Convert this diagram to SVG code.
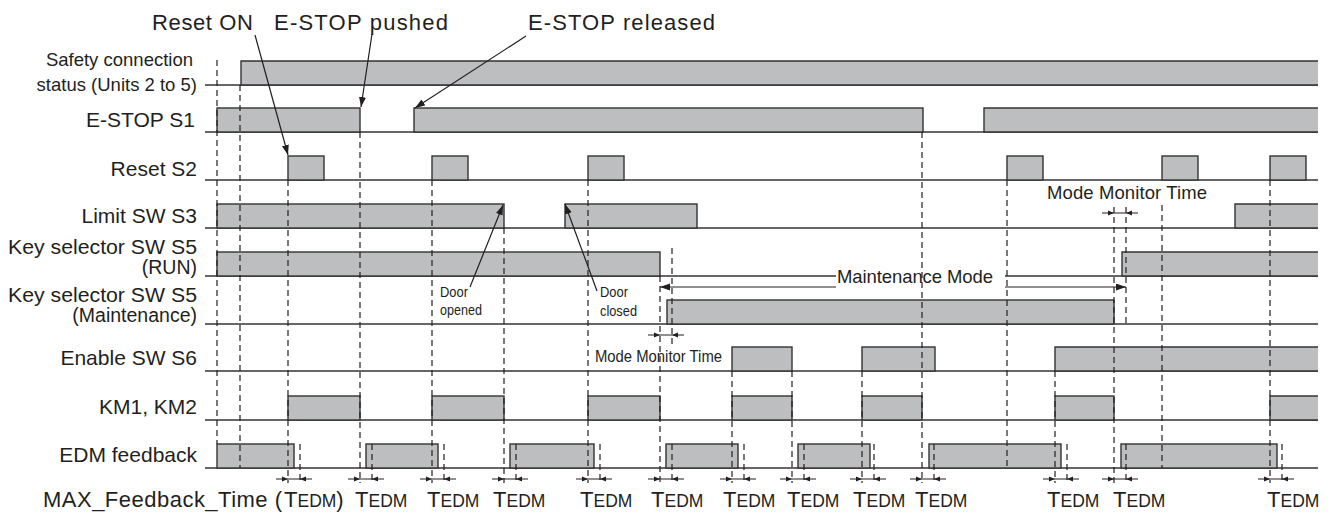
<svg xmlns="http://www.w3.org/2000/svg" xmlns:xlink="http://www.w3.org/1999/xlink" width="1330" height="518" viewBox="0 0 1330 518">
<style>
text{font-family:"Liberation Sans",Arial,Helvetica,sans-serif;fill:#231f20}
.lbl{font-size:21px;text-anchor:end}
.lb2{font-size:19.5px;text-anchor:end}
.lbs{font-size:18.5px;text-anchor:end}
.ann{font-size:22px}
.sm{font-size:15px}
.sig{fill:#bcbec0;stroke:#333;stroke-width:1.4}
.base{stroke:#333;stroke-width:1.4;fill:none}
.dash{stroke:#231f20;stroke-width:1.2;stroke-dasharray:6 4;fill:none}
.lead{stroke:#231f20;stroke-width:1.2;fill:none}
.ah{fill:#231f20;stroke:none}
</style>
<defs>
<marker id="arr" markerUnits="userSpaceOnUse" markerWidth="11" markerHeight="8" refX="10" refY="3.5" orient="auto">
<path d="M0,0 L10,3.5 L0,7 z" fill="#231f20"/>
</marker>
<g id="tm">
<line class="lead" x1="-12" y1="0" x2="24" y2="0"/>
<path class="ah" d="M0 0 l-6 -2.6 v5.2z M12 0 l6 -2.6 v5.2z"/>
</g>
</defs>

<g id="row-safety">
<text class="lbs" x="193" y="66">Safety connection</text>
<text class="lbs" x="197" y="91">status (Units 2 to 5)</text>
<line class="base" x1="205" y1="85" x2="1318" y2="85"/>
<path class="sig" d="M1318 85 H241 V61 H1318"/>
</g>

<g id="row-estop">
<text class="lbl" x="195" y="127">E-STOP S1</text>
<line class="base" x1="205" y1="132" x2="1318" y2="132"/>
<rect class="sig" x="217" y="108" width="143" height="24"/>
<rect class="sig" x="414" y="108" width="509" height="24"/>
<path class="sig" d="M1318 132 H984 V108 H1318"/>
</g>

<g id="row-reset">
<text class="lbl" x="197" y="175.5">Reset S2</text>
<line class="base" x1="205" y1="180" x2="1318" y2="180"/>
<rect class="sig" x="288" y="156" width="36" height="24"/>
<rect class="sig" x="432" y="156" width="36" height="24"/>
<rect class="sig" x="588" y="156" width="36" height="24"/>
<rect class="sig" x="1007" y="156" width="36" height="24"/>
<rect class="sig" x="1162" y="156" width="36" height="24"/>
<rect class="sig" x="1270" y="156" width="36" height="24"/>
</g>

<g id="row-limit">
<text class="lbl" x="197" y="223">Limit SW S3</text>
<line class="base" x1="205" y1="228" x2="1318" y2="228"/>
<rect class="sig" x="217" y="204" width="287" height="24"/>
<rect class="sig" x="565" y="204" width="132" height="24"/>
<path class="sig" d="M1318 228 H1235 V204 H1318"/>
</g>

<g id="row-run">
<text class="lb2" x="197" y="254" textLength="189" lengthAdjust="spacingAndGlyphs">Key selector SW S5</text>
<text class="lb2" x="197" y="274">(RUN)</text>
<line class="base" x1="205" y1="276" x2="836" y2="276"/>
<line class="base" x1="1005" y1="276" x2="1318" y2="276"/>
<rect class="sig" x="217" y="252" width="443" height="24"/>
<path class="sig" d="M1318 276 H1122 V252 H1318"/>
</g>

<g id="row-maint">
<text class="lb2" x="197" y="301.5" textLength="189" lengthAdjust="spacingAndGlyphs">Key selector SW S5</text>
<text class="lb2" x="197" y="321.5">(Maintenance)</text>
<line class="base" x1="205" y1="324" x2="1318" y2="324"/>
<rect class="sig" x="667" y="300" width="447" height="24"/>
</g>

<g id="row-enable">
<text class="lbl" x="197" y="365">Enable SW S6</text>
<line class="base" x1="205" y1="371" x2="1318" y2="371"/>
<rect class="sig" x="732" y="347" width="60" height="24"/>
<rect class="sig" x="862" y="347" width="73" height="24"/>
<path class="sig" d="M1318 371 H1055 V347 H1318"/>
</g>

<g id="row-km">
<text class="lbl" x="197" y="414">KM1, KM2</text>
<line class="base" x1="205" y1="420" x2="1318" y2="420"/>
<rect class="sig" x="288" y="396" width="72" height="24"/>
<rect class="sig" x="432" y="396" width="72" height="24"/>
<rect class="sig" x="588" y="396" width="72" height="24"/>
<rect class="sig" x="732" y="396" width="60" height="24"/>
<rect class="sig" x="862" y="396" width="60" height="24"/>
<rect class="sig" x="1055" y="396" width="59" height="24"/>
<path class="sig" d="M1318 420 H1270 V396 H1318"/>
</g>

<g id="row-edm">
<text class="lbl" x="197" y="462">EDM feedback</text>
<line class="base" x1="205" y1="468" x2="1318" y2="468"/>
<rect class="sig" x="217" y="444" width="77" height="24"/>
<rect class="sig" x="366" y="444" width="72" height="24"/>
<rect class="sig" x="510" y="444" width="84" height="24"/>
<rect class="sig" x="666" y="444" width="72" height="24"/>
<rect class="sig" x="798" y="444" width="72" height="24"/>
<rect class="sig" x="929" y="444" width="132" height="24"/>
<rect class="sig" x="1121" y="444" width="156" height="24"/>
</g>

<g id="connectors">
<g id="dashed">
<line class="dash" x1="217" y1="60" x2="217" y2="444"/>
<line class="dash" x1="240" y1="85" x2="240" y2="468"/>
<line class="dash" x1="288" y1="180" x2="288" y2="483"/>
<line class="dash" x1="300" y1="444" x2="300" y2="483"/>
<line class="dash" x1="360" y1="132" x2="360" y2="483"/>
<line class="dash" x1="372" y1="444" x2="372" y2="483"/>
<line class="dash" x1="432" y1="180" x2="432" y2="483"/>
<line class="dash" x1="444" y1="444" x2="444" y2="483"/>
<line class="dash" x1="504" y1="228" x2="504" y2="483"/>
<line class="dash" x1="516" y1="444" x2="516" y2="483"/>
<line class="dash" x1="588" y1="180" x2="588" y2="483"/>
<line class="dash" x1="600" y1="444" x2="600" y2="483"/>
<line class="dash" x1="660" y1="276" x2="660" y2="483"/>
<line class="dash" x1="672" y1="248" x2="672" y2="345"/>
<line class="dash" x1="672" y1="444" x2="672" y2="483"/>
<line class="dash" x1="732" y1="371" x2="732" y2="483"/>
<line class="dash" x1="744" y1="444" x2="744" y2="483"/>
<line class="dash" x1="792" y1="371" x2="792" y2="483"/>
<line class="dash" x1="804" y1="444" x2="804" y2="483"/>
<line class="dash" x1="862" y1="371" x2="862" y2="483"/>
<line class="dash" x1="874" y1="444" x2="874" y2="483"/>
<line class="dash" x1="922" y1="132" x2="922" y2="483"/>
<line class="dash" x1="934" y1="444" x2="934" y2="483"/>
<line class="dash" x1="1007" y1="180" x2="1007" y2="468"/>
<line class="dash" x1="1055" y1="371" x2="1055" y2="483"/>
<line class="dash" x1="1067" y1="444" x2="1067" y2="483"/>
<line class="dash" x1="1114" y1="207" x2="1114" y2="483"/>
<line class="dash" x1="1126" y1="207" x2="1126" y2="324"/>
<line class="dash" x1="1126" y1="444" x2="1126" y2="483"/>
<line class="dash" x1="1162" y1="205" x2="1162" y2="468"/>
<line class="dash" x1="1270" y1="180" x2="1270" y2="483"/>
<line class="dash" x1="1282" y1="444" x2="1282" y2="483"/>
</g>
<g id="leaders">
<line class="lead" x1="255" y1="35" x2="288" y2="155" marker-end="url(#arr)"/>
<line class="lead" x1="372" y1="34" x2="361" y2="107" marker-end="url(#arr)"/>
<line class="lead" x1="526" y1="36" x2="415" y2="108" marker-end="url(#arr)"/>
<line class="lead" x1="470" y1="287" x2="503" y2="205" marker-end="url(#arr)"/>
<line class="lead" x1="597" y1="291" x2="565" y2="204" marker-end="url(#arr)"/>
<line class="lead" x1="836" y1="287" x2="660" y2="287" marker-end="url(#arr)"/>
<line class="lead" x1="1005" y1="287" x2="1126" y2="287" marker-end="url(#arr)"/>
</g>
<g id="intervals">
<use xlink:href="#tm" href="#tm" transform="translate(660,335)"/>
<use xlink:href="#tm" href="#tm" transform="translate(1114,213)"/>
<use xlink:href="#tm" href="#tm" transform="translate(288,479)"/>
<use xlink:href="#tm" href="#tm" transform="translate(360,479)"/>
<use xlink:href="#tm" href="#tm" transform="translate(432,479)"/>
<use xlink:href="#tm" href="#tm" transform="translate(504,479)"/>
<use xlink:href="#tm" href="#tm" transform="translate(588,479)"/>
<use xlink:href="#tm" href="#tm" transform="translate(660,479)"/>
<use xlink:href="#tm" href="#tm" transform="translate(732,479)"/>
<use xlink:href="#tm" href="#tm" transform="translate(792,479)"/>
<use xlink:href="#tm" href="#tm" transform="translate(862,479)"/>
<use xlink:href="#tm" href="#tm" transform="translate(922,479)"/>
<use xlink:href="#tm" href="#tm" transform="translate(1055,479)"/>
<use xlink:href="#tm" href="#tm" transform="translate(1114,479)"/>
<use xlink:href="#tm" href="#tm" transform="translate(1270,479)"/>
</g>
</g>

<g id="annotations">
<text class="ann" x="152" y="30" textLength="101" lengthAdjust="spacing">Reset ON</text>
<text class="ann" x="274" y="30" textLength="174" lengthAdjust="spacing">E-STOP pushed</text>
<text class="ann" x="528" y="30" textLength="187" lengthAdjust="spacing">E-STOP released</text>
<text class="sm" x="440" y="297" textLength="28" lengthAdjust="spacingAndGlyphs">Door</text>
<text class="sm" x="440" y="315" textLength="42" lengthAdjust="spacingAndGlyphs">opened</text>
<text class="sm" x="600" y="297" textLength="28" lengthAdjust="spacingAndGlyphs">Door</text>
<text class="sm" x="600" y="316" textLength="37" lengthAdjust="spacingAndGlyphs">closed</text>
<text x="837" y="283" font-size="18.5" textLength="156" lengthAdjust="spacing">Maintenance Mode</text>
<text x="1047" y="199" font-size="18.5" textLength="160" lengthAdjust="spacing">Mode Monitor Time</text>
<text x="595" y="362" font-size="16" textLength="127" lengthAdjust="spacingAndGlyphs">Mode Monitor Time</text>
</g>

<g id="tedm-labels">
<text x="43" y="507" font-size="22" textLength="239" lengthAdjust="spacing">MAX_Feedback_Time (</text>
<text x="284" y="507"><tspan font-size="22">T</tspan><tspan font-size="17.5">EDM</tspan><tspan font-size="22">)</tspan></text>
<text x="355" y="507"><tspan font-size="22">T</tspan><tspan font-size="17.5">EDM</tspan></text>
<text x="427" y="507"><tspan font-size="22">T</tspan><tspan font-size="17.5">EDM</tspan></text>
<text x="493" y="507"><tspan font-size="22">T</tspan><tspan font-size="17.5">EDM</tspan></text>
<text x="580" y="507"><tspan font-size="22">T</tspan><tspan font-size="17.5">EDM</tspan></text>
<text x="651" y="507"><tspan font-size="22">T</tspan><tspan font-size="17.5">EDM</tspan></text>
<text x="723" y="507"><tspan font-size="22">T</tspan><tspan font-size="17.5">EDM</tspan></text>
<text x="787" y="507"><tspan font-size="22">T</tspan><tspan font-size="17.5">EDM</tspan></text>
<text x="853" y="507"><tspan font-size="22">T</tspan><tspan font-size="17.5">EDM</tspan></text>
<text x="915" y="507"><tspan font-size="22">T</tspan><tspan font-size="17.5">EDM</tspan></text>
<text x="1047" y="507"><tspan font-size="22">T</tspan><tspan font-size="17.5">EDM</tspan></text>
<text x="1113" y="507"><tspan font-size="22">T</tspan><tspan font-size="17.5">EDM</tspan></text>
<text x="1267" y="507"><tspan font-size="22">T</tspan><tspan font-size="17.5">EDM</tspan></text>
</g>
</svg>
